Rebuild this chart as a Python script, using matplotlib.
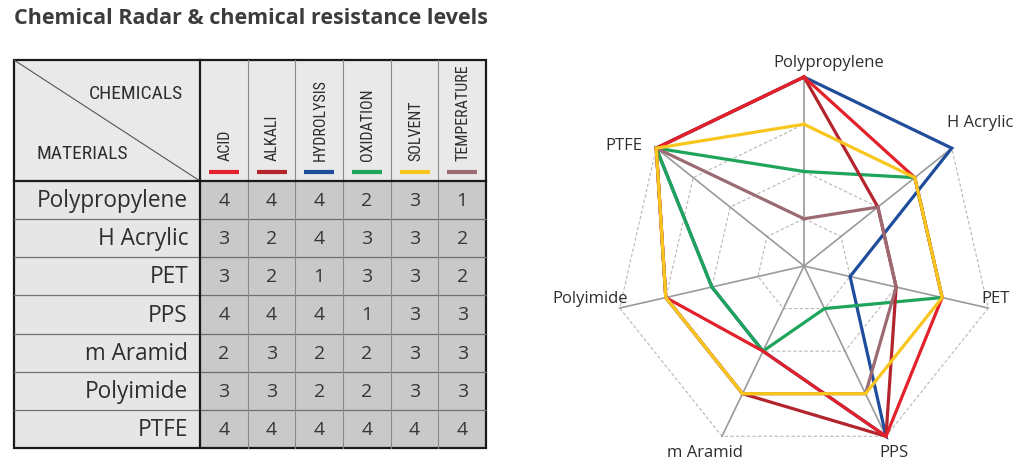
import numpy as np
import matplotlib.pyplot as plt
from matplotlib.patches import Rectangle
from matplotlib import font_manager

# data
materials = ["Polypropylene", "H Acrylic", "PET", "PPS", "m Aramid", "Polyimide", "PTFE"]
chemicals = ["ACID", "ALKALI", "HYDROLYSIS", "OXIDATION", "SOLVENT", "TEMPERATURE"]
acid = [4, 3, 3, 4, 2, 3, 4]
alkali = [4, 2, 2, 4, 3, 3, 4]
hydrolysis = [4, 4, 1, 4, 2, 2, 4]
oxidation = [2, 3, 3, 1, 2, 2, 4]
solvent = [3, 3, 3, 3, 3, 3, 4]
temperature = [1, 2, 2, 3, 3, 3, 4]
chem_colors = ["#e3212b", "#b3242c", "#1f4d9c", "#1ea55b", "#f8c61d", "#9b6a72"]

series = [acid, alkali, hydrolysis, oxidation, solvent, temperature]
values = np.array(series)  # shape chemicals x materials

installed = {f.name for f in font_manager.fontManager.ttflist}


def pick(*names):
    for n in names:
        if n in installed:
            return n
    return "DejaVu Sans"


MAIN = pick("Open Sans", "Noto Sans", "Lato")
NARROW = pick("Liberation Sans Narrow", "Roboto Condensed", "Liberation Sans")
TXT = "#2e2e2e"

fig = plt.figure(figsize=(10.24, 4.74), dpi=100)

# ---- table (axes in pixel coords) ----
ax = fig.add_axes([0, 0, 1, 1])
ax.set_xlim(0, 1024)
ax.set_ylim(474, 0)
ax.axis("off")

fig.text(14 / 1024, 1 - 19 / 474, "Chemical Radar & chemical resistance levels",
         fontsize=15.5, fontweight="bold", family=MAIN, color="#3c3c3c",
         ha="left", va="center")

x0, xl, x1 = 14, 200, 486
y0, yh, y1 = 60, 181, 448
cw = (x1 - xl) / len(chemicals)
rh = (y1 - yh) / len(materials)

ax.add_patch(Rectangle((x0, y0), x1 - x0, yh - y0, fc="#e9e9e9", ec="none"))
for i, m in enumerate(materials):
    ya = yh + i * rh
    ax.add_patch(Rectangle((x0, ya), xl - x0, rh, fc="#e6e6e6", ec="none"))
    ax.add_patch(Rectangle((xl, ya), x1 - xl, rh, fc="#c9c9c9", ec="none"))
    ax.text(xl - 12, ya + rh / 2 + 1, m, fontsize=16.3, family=MAIN, color=TXT,
            ha="right", va="center")
    for j in range(len(chemicals)):
        ax.text(xl + (j + 0.5) * cw, ya + rh / 2 + 1, str(values[j, i]), fontsize=14,
                family=MAIN, color="#363636", ha="center", va="center")

# grid lines
for i in range(1, len(materials)):
    ya = yh + i * rh
    ax.plot([x0, x1], [ya, ya], color="#707070", lw=0.9)
for j in range(1, len(chemicals)):
    xa = xl + j * cw
    ax.plot([xa, xa], [y0, y1], color="#8a8a8a", lw=0.8)
ax.plot([x0, xl], [y0, yh], color="#555555", lw=0.8)
ax.plot([x0, x1], [yh, yh], color="#1a1a1a", lw=1.6)
ax.plot([xl, xl], [y0, y1], color="#1a1a1a", lw=1.6)
ax.add_patch(Rectangle((x0, y0), x1 - x0, y1 - y0, fc="none", ec="#1a1a1a", lw=1.6))

ax.text(183, 94, "CHEMICALS", fontsize=14, family=NARROW, color=TXT,
        ha="right", va="center")
ax.text(37, 154, "MATERIALS", fontsize=14, family=NARROW, color=TXT,
        ha="left", va="center")
for j, (c, col) in enumerate(zip(chemicals, chem_colors)):
    cx = xl + (j + 0.5) * cw
    ax.text(cx + 1, 161, c, rotation=90, fontsize=11.5, family=NARROW, color=TXT,
            ha="center", va="bottom")
    ax.plot([cx - 15, cx + 15], [171.5, 171.5], color=col, lw=3, solid_capstyle="butt")

# ---- radar ----
cxp, cyp, R = 804, 266, 189
ar = fig.add_axes([(cxp - R) / 1024, (474 - cyp - R) / 474, 2 * R / 1024, 2 * R / 474],
                  projection="polar")
ar.set_theta_offset(np.pi / 2)
ar.set_theta_direction(-1)
ar.set_ylim(0, 4)
ar.axis("off")

n = len(materials)
theta = np.linspace(0, 2 * np.pi, n, endpoint=False)
tc = np.append(theta, theta[0])

for r in [1, 2, 3, 4]:
    ar.plot(tc, [r] * (n + 1), color="#b8b8b8", lw=0.8, dashes=(3, 2), clip_on=False)
for t in theta:
    ar.plot([t, t], [0, 4], color="#9a9a9a", lw=1.2, clip_on=False)

order = [2, 3, 1, 0, 5, 4]
for k in order:
    v = series[k]
    ar.plot(tc, v + v[:1], color=chem_colors[k], lw=2.3, clip_on=False,
            solid_joinstyle="miter")

offsets = [(25, 14), (28, 25), (7, 9), (8, -17), (-17, -17), (-30, 9), (-32, 2)]
for t, m, off in zip(theta, materials, offsets):
    ar.annotate(m, xy=(t, 4), xytext=off, textcoords="offset pixels",
                ha="center", va="center", fontsize=12, family=MAIN,
                color=TXT, annotation_clip=False)

fig.savefig("out.png", dpi=100, facecolor="white")
